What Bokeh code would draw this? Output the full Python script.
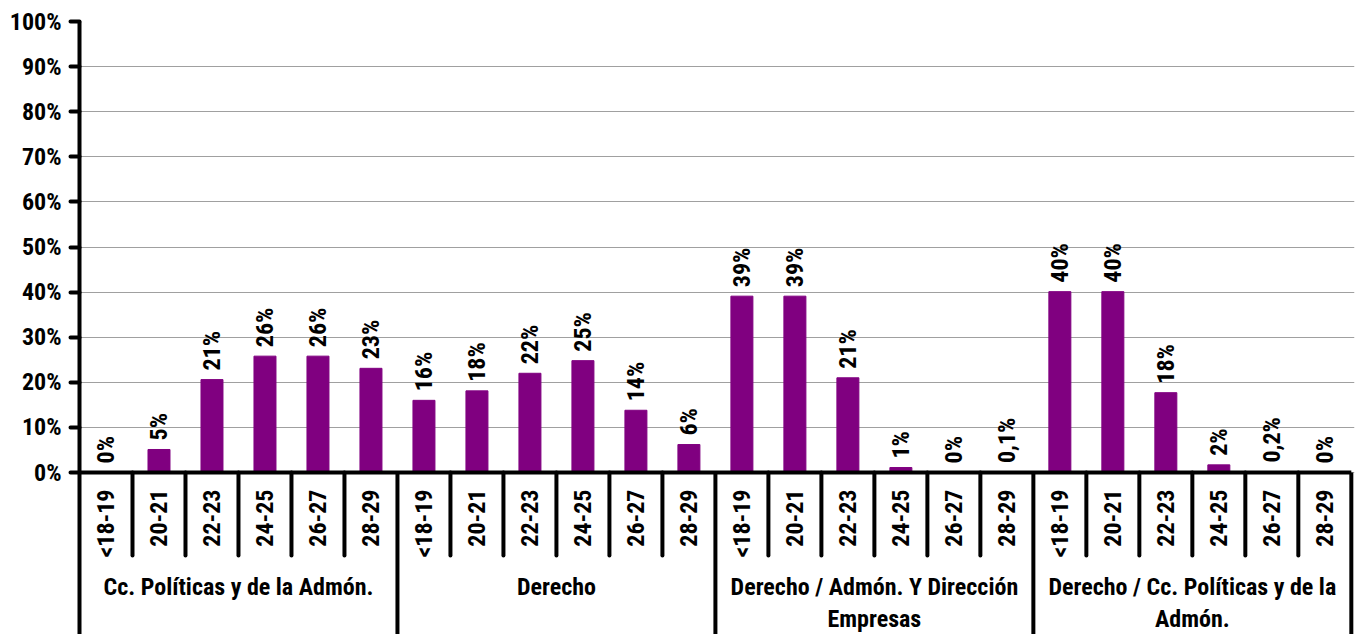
import math
from bokeh.plotting import figure
from bokeh.models import Range1d, FixedTicker, ColumnDataSource, PrintfTickFormatter
from bokeh.core.properties import value
from bokeh.embed import file_html
from bokeh.resources import INLINE

# ---- data ----
groups = ["Cc. Políticas y de la Admón.",
          "Derecho",
          "Derecho / Admón. Y Dirección\nEmpresas",
          "Derecho / Cc. Políticas y de la\nAdmón."]
ages = ["<18-19", "20-21", "22-23", "24-25", "26-27", "28-29"]
cc_politicas = [0.0, 5.1, 20.6, 25.8, 25.8, 23.1]
derecho = [16.0, 18.1, 22.0, 24.8, 13.8, 6.2]
derecho_ade = [39.1, 39.1, 21.0, 1.1, 0.0, 0.1]
derecho_cp = [40.1, 40.1, 17.7, 1.7, 0.2, 0.0]
y_ticks = [0, 10, 20, 30, 40, 50, 60, 70, 80, 90, 100]

series = [cc_politicas, derecho, derecho_ade, derecho_cp]

FONT = "Roboto Condensed, Open Sans Condensed, sans-serif"
FS = "24px"
PURPLE = "#800080"


def fmt(v):
    if 0 < v < 1:
        return ("%.1f" % v).replace(".", ",") + "%"
    return "%d%%" % round(v)


n_g = len(groups)
n_a = len(ages)
xs, vals, labels, age_lbl = [], [], [], []
for gi, s in enumerate(series):
    for ai, v in enumerate(s):
        xs.append(gi * n_a + ai + 0.5)
        vals.append(v)
        labels.append(fmt(v))
        age_lbl.append(ages[ai])
n_tot = n_g * n_a

src = ColumnDataSource(dict(x=xs, v=vals, lab=labels, age=age_lbl))

# pixel geometry helpers (percent units)
W, H = 1363, 634
left, top = 79, 21
px_per_pct = 4.51
frame_h = H - top
y_min = 100 - frame_h / px_per_pct
slot_px = 53.0
x_max = n_tot + 0.06
frame_w = x_max * slot_px
right = W - left - frame_w

p = figure(width=W, height=H, output_backend="svg", toolbar_location=None,
           x_range=Range1d(0, x_max), y_range=Range1d(y_min, 100),
           x_axis_location=None, min_border_left=left, min_border_right=int(round(right)),
           min_border_top=top, min_border_bottom=0)
p.outline_line_color = None
p.background_fill_color = "white"
p.border_fill_color = "white"
p.xgrid.visible = False

p.ygrid.grid_line_color = "#a0a0a0"
p.ygrid.grid_line_width = 1

ax = p.yaxis[0]
ax.ticker = FixedTicker(ticks=y_ticks)
ax.formatter = PrintfTickFormatter(format="%d%%")
ax.axis_line_width = 4
ax.axis_line_color = "black"
ax.major_tick_in = 0
ax.major_tick_out = 9
ax.major_tick_line_width = 4
ax.major_tick_line_cap = "round"
ax.minor_tick_line_color = None
ax.major_label_text_font = FONT
ax.major_label_text_font_size = FS
ax.major_label_text_font_style = "bold"
ax.major_label_text_color = "black"
ax.major_label_standoff = 9

# bars
p.vbar(x="x", top="v", bottom=0, width=0.415, color=PURPLE, source=src)

# baseline
p.segment(x0=[0], y0=[0], x1=[n_tot], y1=[0], line_color="black", line_width=4)

# separators
minor_x = [k for k in range(1, n_tot) if k % n_a != 0]
major_x = [k for k in range(n_a, n_tot + 1, n_a)]
minor_bottom = -83 / px_per_pct
p.segment(x0=minor_x, y0=[0] * len(minor_x), x1=minor_x, y1=[minor_bottom] * len(minor_x),
          line_color="black", line_width=4, line_cap="round")
p.segment(x0=major_x, y0=[0] * len(major_x), x1=major_x, y1=[y_min - 5] * len(major_x),
          line_color="black", line_width=4)

# data labels
p.text(x="x", y="v", text="lab", source=src, angle=math.pi / 2,
       text_align="left", text_baseline="middle", y_offset=-9,
       text_font=value(FONT), text_font_size=FS, text_font_style="bold",
       text_color="black")

# age labels (rotated)
p.text(x="x", y=-17 / px_per_pct, text="age", source=src, angle=math.pi / 2,
       text_align="right", text_baseline="middle",
       text_font=value(FONT), text_font_size=FS, text_font_style="bold",
       text_color="black")

# group labels
gx = [gi * n_a + n_a / 2 for gi in range(n_g)]
p.text(x=gx, y=[-100 / px_per_pct] * n_g, text=groups,
       text_align="center", text_baseline="top", text_line_height=1.17,
       text_font=value(FONT), text_font_size=FS, text_font_style="bold",
       text_color="black")

open("out.html", "w").write(file_html(p, INLINE))
